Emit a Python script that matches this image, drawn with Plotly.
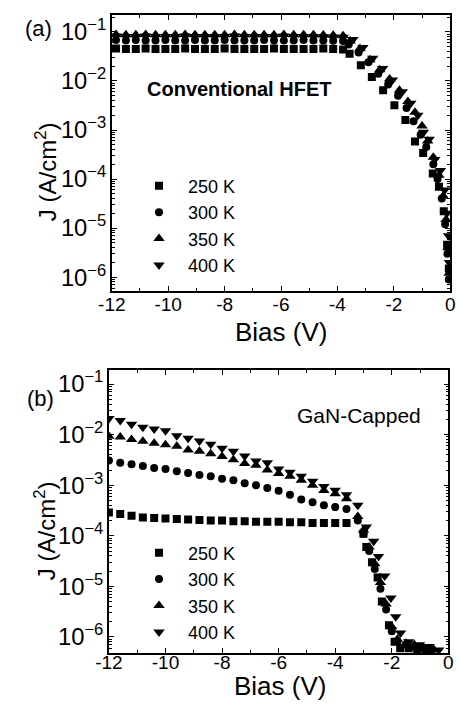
import plotly.graph_objects as go

# ---------------- Panel (a): Conventional HFET ----------------
a_bias_plateau = [-11.85, -11.5, -11.15, -10.8, -10.45, -10.1, -9.75, -9.4, -9.05, -8.7,
                  -8.35, -8.0, -7.65, -7.3, -6.95, -6.6, -6.25, -5.9, -5.55, -5.2,
                  -4.85, -4.5, -4.15, -3.8]

a_250_plateau = [0.046, 0.045, 0.045, 0.046, 0.045, 0.045, 0.045, 0.046, 0.045, 0.045,
                 0.045, 0.046, 0.045, 0.045, 0.045, 0.045, 0.046, 0.045, 0.045, 0.045,
                 0.045, 0.046, 0.045, 0.044]
a_300_plateau = [0.068, 0.067, 0.068, 0.067, 0.067, 0.068, 0.067, 0.067, 0.068, 0.067,
                 0.067, 0.068, 0.067, 0.067, 0.067, 0.068, 0.067, 0.067, 0.067, 0.068,
                 0.067, 0.067, 0.066, 0.065]
a_350_plateau = [0.088, 0.087, 0.087, 0.088, 0.087, 0.087, 0.087, 0.088, 0.087, 0.087,
                 0.087, 0.087, 0.088, 0.087, 0.087, 0.087, 0.087, 0.088, 0.087, 0.087,
                 0.087, 0.086, 0.085, 0.083]
a_400_plateau = [0.082, 0.081, 0.081, 0.082, 0.081, 0.081, 0.081, 0.082, 0.081, 0.081,
                 0.081, 0.081, 0.082, 0.081, 0.081, 0.081, 0.081, 0.082, 0.081, 0.081,
                 0.081, 0.080, 0.079, 0.078]

a_250_tail_bias = [-3.57, -3.17, -2.78, -2.38, -1.98, -1.59, -1.25, -0.96, -0.62, -0.4, -0.23, -0.11, -0.05]
a_250_tail_J = [0.036, 0.021, 0.012, 6.5e-3, 3.2e-3, 1.6e-3, 5.8e-4, 3.4e-4, 1.3e-4, 7e-5, 2.2e-5, 4.6e-6, 1.5e-6]

a_300_tail_bias = [-3.6, -3.25, -2.9, -2.55, -2.2, -1.85, -1.55, -1.3, -1.05, -0.85, -0.6, -0.45, -0.3, -0.18, -0.1, -0.05]
a_300_tail_J = [0.055, 0.038, 0.024, 0.014, 8.5e-3, 5e-3, 2.8e-3, 1.5e-3, 8e-4, 4.5e-4, 2e-4, 1e-4, 4e-5, 1.2e-5, 3e-6, 9e-7]

a_350_tail_bias = [-3.55, -3.2, -2.85, -2.5, -2.15, -1.8, -1.5, -1.25, -1.0, -0.8, -0.6, -0.4, -0.25, -0.15, -0.08, -0.04]
a_350_tail_J = [0.065, 0.046, 0.027, 0.017, 0.011, 6.5e-3, 3.8e-3, 2.3e-3, 1.2e-3, 6e-4, 2.8e-4, 1.2e-4, 4.5e-5, 1.5e-5, 4e-6, 1.2e-6]

a_400_tail_bias = [-3.45, -3.1, -2.75, -2.4, -2.05, -1.7, -1.4, -1.15, -0.95, -0.75, -0.55, -0.35, -0.2, -0.12, -0.06, -0.03]
a_400_tail_J = [0.07, 0.048, 0.029, 0.018, 0.0105, 6e-3, 3.5e-3, 2e-3, 9e-4, 6.5e-4, 2.5e-4, 1.5e-4, 6e-5, 2e-5, 7e-6, 2e-6]

# ---------------- Panel (b): GaN-Capped ----------------
b_bias_plateau = [-12.0, -11.6, -11.2, -10.8, -10.4, -10.0, -9.6, -9.2, -8.8, -8.4, -8.0,
                  -7.6, -7.2, -6.8, -6.4, -6.0, -5.6, -5.2, -4.8, -4.4, -4.0, -3.6]

b_250_plateau = [2.9e-4, 2.7e-4, 2.5e-4, 2.3e-4, 2.25e-4, 2.2e-4, 2.15e-4, 2.1e-4, 2.05e-4, 2.0e-4, 2.0e-4,
                 1.95e-4, 1.95e-4, 1.9e-4, 1.9e-4, 1.9e-4, 1.85e-4, 1.85e-4, 1.8e-4, 1.8e-4, 1.8e-4, 1.8e-4]
b_300_plateau = [3.1e-3, 2.8e-3, 2.6e-3, 2.4e-3, 2.2e-3, 2.1e-3, 1.9e-3, 1.75e-3, 1.6e-3, 1.5e-3, 1.35e-3,
                 1.25e-3, 1.1e-3, 1.0e-3, 8.8e-4, 7.8e-4, 6.5e-4, 5.2e-4, 4.6e-4, 4.0e-4, 3.7e-4, 3.4e-4]
b_350_plateau = [9.3e-3, 9.0e-3, 8.0e-3, 7.4e-3, 6.8e-3, 6.3e-3, 5.9e-3, 5.0e-3, 4.7e-3, 4.2e-3, 3.7e-3,
                 3.2e-3, 2.7e-3, 2.5e-3, 2.0e-3, 1.7e-3, 1.5e-3, 1.26e-3, 1.0e-3, 7.9e-4, 6.8e-4, 5.4e-4]
b_400_plateau = [0.021, 0.019, 0.016, 0.014, 0.013, 0.012, 9.5e-3, 8.5e-3, 7.5e-3, 6.5e-3, 5.4e-3,
                 4.7e-3, 3.8e-3, 3.0e-3, 2.8e-3, 2.1e-3, 1.8e-3, 1.5e-3, 1.2e-3, 9.5e-4, 8.0e-4, 6.5e-4]

b_250_tail_bias = [-3.0, -2.9, -2.7, -2.5, -2.35, -2.1, -1.9, -1.7, -1.4, -1.1, -0.8]
b_250_tail_J = [1.1e-4, 6e-5, 3e-5, 1.5e-5, 5e-6, 1.7e-6, 8e-7, 6e-7, 6e-7, 5.5e-7, 5.5e-7]

b_300_tail_bias = [-3.2, -3.0, -2.8, -2.6, -2.4, -2.2, -2.0, -1.8, -1.5, -1.2, -0.9, -0.6]
b_300_tail_J = [2e-4, 1.1e-4, 5e-5, 2.2e-5, 9e-6, 3.5e-6, 1.3e-6, 8e-7, 7e-7, 6.5e-7, 6e-7, 5.5e-7]

b_350_tail_bias = [-3.2, -3.0, -2.8, -2.6, -2.4, -2.2, -2.0, -1.8, -1.5, -1.2, -0.9, -0.5]
b_350_tail_J = [2.4e-4, 1.3e-4, 6e-5, 2.8e-5, 1.2e-5, 4.5e-6, 1.6e-6, 9e-7, 7.5e-7, 7e-7, 6e-7, 5.5e-7]

b_400_tail_bias = [-3.2, -2.9, -2.64, -2.47, -2.25, -2.03, -1.86, -1.69, -1.4, -1.02, -0.68, -0.34]
b_400_tail_J = [4e-4, 1.5e-4, 7.8e-5, 3.9e-5, 1.6e-5, 5.9e-6, 2.5e-6, 1.2e-6, 8e-7, 7e-7, 6.5e-7, 5.5e-7]

temps = ["250 K", "300 K", "350 K", "400 K"]
symbols = ["square", "circle", "triangle-up", "triangle-down"]
sizes = [8, 8, 10, 10]

x_ticks = [-12, -10, -8, -6, -4, -2, 0]
x_ticktext = ["-12", "-10", "-8", "-6", "-4", "-2", "0"]

FONT = "Liberation Sans, Arial, sans-serif"

fig = go.Figure()

a_sets = [
    (a_bias_plateau + a_250_tail_bias, a_250_plateau + a_250_tail_J),
    (a_bias_plateau + a_300_tail_bias, a_300_plateau + a_300_tail_J),
    (a_bias_plateau + a_350_tail_bias, a_350_plateau + a_350_tail_J),
    (a_bias_plateau + a_400_tail_bias, a_400_plateau + a_400_tail_J),
]
b_sets = [
    (b_bias_plateau + b_250_tail_bias, b_250_plateau + b_250_tail_J),
    (b_bias_plateau + b_300_tail_bias, b_300_plateau + b_300_tail_J),
    (b_bias_plateau + b_350_tail_bias, b_350_plateau + b_350_tail_J),
    (b_bias_plateau + b_400_tail_bias, b_400_plateau + b_400_tail_J),
]

for i, (xs, ys) in enumerate(a_sets):
    fig.add_trace(go.Scatter(x=xs, y=ys, mode="markers", name=temps[i],
                             marker=dict(symbol=symbols[i], size=sizes[i], color="black", line=dict(width=0)),
                             xaxis="x", yaxis="y", legend="legend"))
for i, (xs, ys) in enumerate(b_sets):
    fig.add_trace(go.Scatter(x=xs, y=ys, mode="markers", name=temps[i],
                             marker=dict(symbol=symbols[i], size=sizes[i], color="black", line=dict(width=0)),
                             xaxis="x2", yaxis="y2", legend="legend2"))

W, H = 461, 705

def px_x(p):
    return p / W

def px_y(p):
    return 1 - p / H

axis_common = dict(showline=True, linecolor="black", linewidth=1.5, mirror="ticks",
                   ticks="inside", tickcolor="black", tickwidth=1.2, showgrid=False, zeroline=False,
                   tickfont=dict(family=FONT, size=19, color="black"))

xa = dict(axis_common, range=[-12, 0], tickvals=x_ticks, ticktext=x_ticktext, ticklen=5,
          minor=dict(ticks="inside", ticklen=3, dtick=1, tickcolor="black", tickwidth=1))
ya = dict(axis_common, type="log", dtick=1, exponentformat="power", ticklen=5,
          minor=dict(ticks="inside", ticklen=3, dtick="D1", tickcolor="black", tickwidth=1))

def ann(text, x, y, size, angle=0):
    return dict(text=text, x=px_x(x), y=px_y(y), xref="paper", yref="paper", showarrow=False,
                xanchor="center", yanchor="middle", textangle=angle,
                font=dict(family=FONT, size=size, color="black"))

fig.update_layout(
    width=W, height=H,
    margin=dict(l=0, r=0, t=0, b=0),
    paper_bgcolor="white", plot_bgcolor="white",
    font=dict(family=FONT, color="black"),
    xaxis=dict(xa, domain=[px_x(102), px_x(455)], anchor="y", ticklabelstandoff=-5),
    yaxis=dict(ya, domain=[px_y(290), px_y(13)], anchor="x", range=[-6.285, -0.655]),
    xaxis2=dict(xa, domain=[px_x(99), px_x(453)], anchor="y2", ticklabelstandoff=-9),
    yaxis2=dict(ya, domain=[px_y(653), px_y(369)], anchor="x2", range=[-6.32, -0.72]),
    legend=dict(x=px_x(121), y=px_y(166), xanchor="left", yanchor="top",
                bgcolor="rgba(0,0,0,0)", itemwidth=48, tracegroupgap=0,
                font=dict(family=FONT, size=18, color="black")),
    legend2=dict(x=px_x(121), y=px_y(534), xanchor="left", yanchor="top",
                 bgcolor="rgba(0,0,0,0)", itemwidth=48, tracegroupgap=0,
                 font=dict(family=FONT, size=18, color="black")),
    annotations=[
        ann("(a)", 26, 27, 22),
        ann("(b)", 28, 398, 22),
        ann("<b>Conventional HFET</b>", 235, 87, 20),
        ann("GaN-Capped", 360, 415, 21),
        ann("J (A/cm<sup>2</sup>)", 33, 170, 24, -90),
        ann("J (A/cm<sup>2</sup>)", 33, 530, 24, -90),
        ann("Bias (V)", 278, 331, 26),
        ann("Bias (V)", 277, 686, 26),
    ],
)

fig.write_html("out.html",
               config={"displayModeBar": False},
               post_script="document.body.style.margin='0';document.body.style.padding='0';"
                           "document.documentElement.style.overflow='hidden';")
